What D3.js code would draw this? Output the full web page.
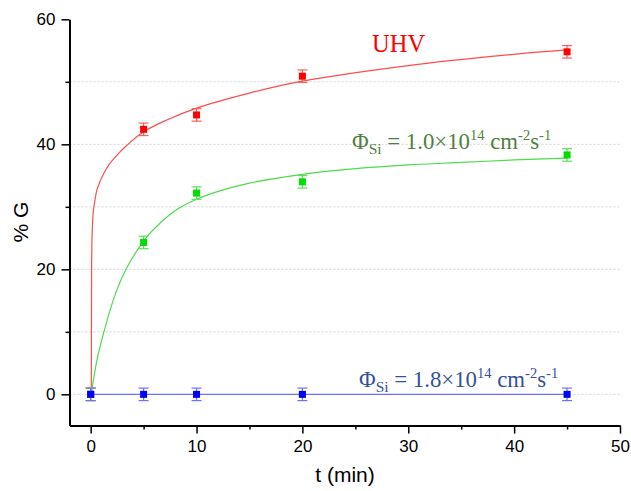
<!DOCTYPE html>
<html>
<head>
<meta charset="utf-8">
<script src="https://cdn.jsdelivr.net/npm/d3@7/dist/d3.min.js"></script>
<style>
  body { margin: 0; background: #fff; }
  #chart { width: 631px; height: 491px; }
</style>
</head>
<body>
<div id="chart"></div>
<script>
// measured points (t in min, % G)
var tPoints = [0, 5, 10, 20, 45];
var uhvValues = [0, 42.4, 44.7, 50.9, 54.8];
var phi10Values = [0, 24.3, 32.2, 34.0, 38.3];
var phi18Values = [0, 0, 0, 0, 0];
var uhvErrors = [1, 1, 1, 1, 1];
var phi10Errors = [1, 1, 1, 1, 1];
var phi18Errors = [1, 1, 1, 1, 1];

// fitted curves
var uhvFitT = [0.06, 0.08, 0.09, 0.12, 0.17, 0.25, 0.4, 0.57, 0.8, 1.2, 1.8, 2.45, 3.4, 5, 7.2, 10, 15, 20, 30, 40, 45];
var uhvFitG = [0, 15, 21, 24.5, 27, 29.3, 31.0, 32.6, 33.7, 35.2, 36.9, 38.2, 39.8, 42, 43.9, 45.8, 48.2, 50.1, 52.6, 54.4, 55.1];
var phi10FitT = [0.05, 0.6, 1.25, 2.36, 3.3, 4.5, 5.5, 6.5, 8, 10, 12.5, 15, 20, 25, 30, 35, 40, 45];
var phi10FitG = [0, 5.5, 10, 16.2, 19.9, 23.3, 25.6, 27.3, 29.4, 31.2, 32.7, 33.8, 35.2, 36.1, 36.7, 37.1, 37.5, 37.8];

var xMajorTicks = [0, 10, 20, 30, 40, 50];
var xMinorTicks = [5, 15, 25, 35, 45];
var yMajorTicks = [0, 20, 40, 60];
var yMinorTicks = [10, 30, 50];
var gridValues = [0, 10, 20, 30, 40, 50];

function makeChart() {
  var width = 631, height = 491;

  var svg = d3.select('#chart').append('svg')
    .attr('width', width)
    .attr('height', height);

  var x = d3.scaleLinear().domain([-2, 50]).range([69.5, 620]);
  var y = d3.scaleLinear().domain([-5, 60]).range([425.6, 19.3]);

  // dotted grid
  svg.append('g')
    .selectAll('line')
    .data(gridValues)
    .enter()
    .append('line')
      .attr('x1', x(-2)).attr('x2', x(50))
      .attr('y1', function(d) { return y(d); })
      .attr('y2', function(d) { return y(d); })
      .attr('stroke', '#d4d4d4')
      .attr('stroke-width', 1)
      .attr('stroke-dasharray', '2,2');

  // axes
  svg.append('g')
    .attr('transform', 'translate(0,' + y(-5) + ')')
    .call(d3.axisBottom(x).tickValues(xMajorTicks).tickSize(8).tickSizeOuter(0).tickPadding(6));
  svg.append('g')
    .attr('transform', 'translate(0,' + y(-5) + ')')
    .call(d3.axisBottom(x).tickValues(xMinorTicks).tickSize(4).tickSizeOuter(0).tickFormat(''))
    .select('.domain').remove();

  svg.append('g')
    .attr('transform', 'translate(' + x(-2) + ',0)')
    .call(d3.axisLeft(y).tickValues(yMajorTicks).tickSize(8).tickSizeOuter(0).tickPadding(6));
  svg.append('g')
    .attr('transform', 'translate(' + x(-2) + ',0)')
    .call(d3.axisLeft(y).tickValues(yMinorTicks).tickSize(4).tickSizeOuter(0).tickFormat(''))
    .select('.domain').remove();

  svg.selectAll('.domain').attr('stroke', '#000').attr('stroke-width', 2);
  svg.selectAll('.tick line').attr('stroke', '#000').attr('stroke-width', 1.5);
  svg.selectAll('.tick text')
    .attr('font-family', 'Liberation Sans, Arial, sans-serif')
    .attr('font-size', 17)
    .attr('fill', '#000');

  // axis titles
  svg.append('text')
    .attr('x', 345).attr('y', 482)
    .attr('text-anchor', 'middle')
    .attr('font-family', 'Liberation Sans, Arial, sans-serif')
    .attr('font-size', 21)
    .text('t (min)');
  svg.append('text')
    .attr('transform', 'translate(28,222) rotate(-90)')
    .attr('text-anchor', 'middle')
    .attr('font-family', 'Liberation Sans, Arial, sans-serif')
    .attr('font-size', 21)
    .text('% G');

  var line = d3.line()
    .x(function(d) { return x(d[0]); })
    .y(function(d) { return y(d[1]); })
    .curve(d3.curveCatmullRom.alpha(0.5));

  var plot = svg.append('g');

  // fit curves and blue connecting line
  plot.append('path')
    .attr('d', line(d3.zip(tPoints, phi18Values)))
    .attr('fill', 'none').attr('stroke', '#7272ff').attr('stroke-width', 1.2);
  plot.append('path')
    .attr('d', line(d3.zip(uhvFitT, uhvFitG)))
    .attr('fill', 'none').attr('stroke', '#ff4c4c').attr('stroke-width', 1.2);
  plot.append('path')
    .attr('d', line(d3.zip(phi10FitT, phi10FitG)))
    .attr('fill', 'none').attr('stroke', '#4cdc4c').attr('stroke-width', 1.2);

  var series = [
    { values: uhvValues, errors: uhvErrors, color: '#ff0000', bar: '#ff5c5c' },
    { values: phi10Values, errors: phi10Errors, color: '#00dd00', bar: '#5ce05c' },
    { values: phi18Values, errors: phi18Errors, color: '#0000ff', bar: '#7070ff' }
  ];

  series.forEach(function(s) {
    var pts = tPoints.map(function(t, i) { return { t: t, v: s.values[i], e: s.errors[i] }; });
    var g = plot.append('g');
    var eb = g.selectAll('g.err').data(pts).enter().append('g');
    eb.append('line')
      .attr('x1', function(d) { return x(d.t); })
      .attr('x2', function(d) { return x(d.t); })
      .attr('y1', function(d) { return y(d.v - d.e); })
      .attr('y2', function(d) { return y(d.v + d.e); })
      .attr('stroke', s.bar).attr('stroke-width', 1.2);
    [-1, 1].forEach(function(sign) {
      eb.append('line')
        .attr('x1', function(d) { return x(d.t) - 5; })
        .attr('x2', function(d) { return x(d.t) + 5; })
        .attr('y1', function(d) { return y(d.v + sign * d.e); })
        .attr('y2', function(d) { return y(d.v + sign * d.e); })
        .attr('stroke', s.bar).attr('stroke-width', 1.2);
    });
    g.selectAll('rect').data(pts).enter().append('rect')
      .attr('x', function(d) { return x(d.t) - 3.5; })
      .attr('y', function(d) { return y(d.v) - 3.5; })
      .attr('width', 7).attr('height', 7)
      .attr('fill', s.color);
  });

  // labels
  svg.append('text')
    .attr('x', 372).attr('y', 52)
    .attr('font-family', 'Liberation Serif, Times New Roman, serif')
    .attr('font-size', 24.5)
    .attr('fill', '#ff0000')
    .text('UHV');

  function fluxLabel(tx, ty, value, color) {
    var t = svg.append('text')
      .attr('x', tx).attr('y', ty)
      .attr('font-family', 'Liberation Serif, Times New Roman, serif')
      .attr('font-size', 22.8)
      .attr('fill', color);
    t.append('tspan').text('\u03A6');
    t.append('tspan').attr('font-size', 15.5).attr('dy', 5).text('Si');
    t.append('tspan').attr('dy', -5).text(' = ' + value + '\u00D710');
    t.append('tspan').attr('font-size', 14.5).attr('dy', -9).text('14');
    t.append('tspan').attr('dy', 9).text(' cm');
    t.append('tspan').attr('font-size', 14.5).attr('dy', -9).text('-2');
    t.append('tspan').attr('dy', 9).text('s');
    t.append('tspan').attr('font-size', 14.5).attr('dy', -9).text('-1');
  }
  fluxLabel(352, 149, '1.0', '#4f7f3f');
  fluxLabel(359, 387, '1.8', '#34519c');
}

makeChart();
</script>
</body>
</html>
